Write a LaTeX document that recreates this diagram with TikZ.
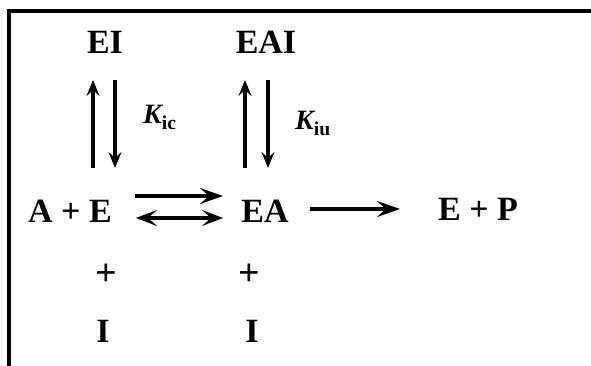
\documentclass[tikz,border=0pt]{standalone}
\usepackage{fontspec}
\setmainfont{Liberation Serif}
\usetikzlibrary{arrows.meta}

\begin{document}
\begin{tikzpicture}[
  x=1pt, y=1pt,
  species/.style={font=\fontsize{34}{38}\selectfont\bfseries, inner sep=0pt, anchor=base},
  plus/.style={font=\fontsize{38}{40}\selectfont\bfseries, inner sep=0pt, anchor=base},
  konst/.style={font=\fontsize{28}{30}\selectfont\bfseries\itshape, inner sep=0pt, anchor=base west},
  vstep/.style={line width=3.6pt, -{Stealth[length=16pt, width=13pt, inset=6pt]}},
  hstep/.style={line width=4pt, -{Stealth[length=23pt, width=16pt, inset=9pt]}},
  frame/.style={line width=3.6pt}
]
  \useasboundingbox (0,0) rectangle (591,366);
  % open frame
  \coordinate (c0) at (9,0);
  \coordinate (c1) at (9,355);
  \coordinate (c2) at (591,355);
  \draw[frame] (c0) -- (c1) -- (c2);

  % species
  \node[species] (ei) at (105,312) {EI};
  \node[species] (eai) at (266,312) {EAI};
  \node[species] (ae) at (70,143) {A + E};
  \node[species] (ea) at (265,143) {EA};
  \node[species] (ep) at (478,145) {E + P};
  \node[plus] (p1) at (106,80) {+};
  \node[plus] (p2) at (249,80) {+};
  \node[species] (i1) at (103,23) {I};
  \node[species] (i2) at (252,23) {I};

  % constants
  \node[konst] (kic) at (143,242) {K\textsubscript{\upshape ic}};
  \node[konst] (kiu) at (295,236) {K\textsubscript{\upshape iu}};

  % arrow ends
  \coordinate (u1a) at (93,198);  \coordinate (u1b) at (93,286);
  \coordinate (d1a) at (115,286); \coordinate (d1b) at (115,198);
  \coordinate (u2a) at (245,198); \coordinate (u2b) at (245,286);
  \coordinate (d2a) at (268,286); \coordinate (d2b) at (268,198);
  \coordinate (fa) at (135,170);  \coordinate (fb) at (223,170);
  \coordinate (ba) at (136,148);  \coordinate (bb) at (223,148);
  \coordinate (ka) at (310,157);  \coordinate (kb) at (400,157);

  \draw[vstep] (u1a) -- (u1b);
  \draw[vstep] (d1a) -- (d1b);
  \draw[vstep] (u2a) -- (u2b);
  \draw[vstep] (d2a) -- (d2b);
  \draw[hstep] (fa) -- (fb);
  \draw[line width=3.6pt, {Stealth[length=21pt, width=16pt, inset=9pt]}-{Stealth[length=21pt, width=16pt, inset=9pt]}] (ba) -- (bb);
  \draw[hstep, line width=3.6pt] (ka) -- (kb);
\end{tikzpicture}
\end{document}
